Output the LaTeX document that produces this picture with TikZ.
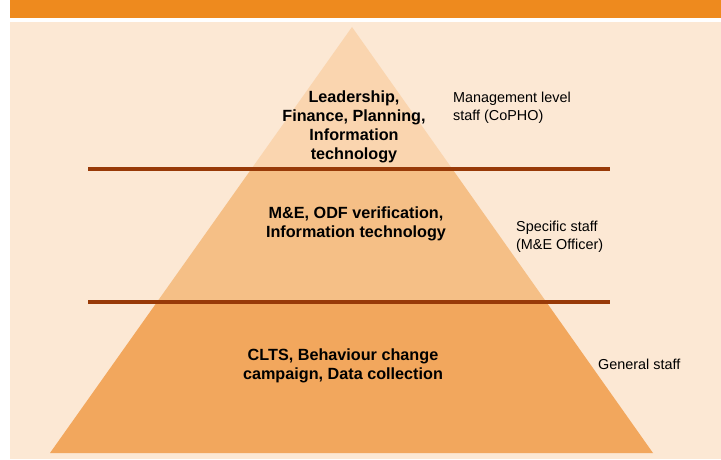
\documentclass[tikz,border=0pt]{standalone}
\usepackage{fontspec}
\setmainfont{Liberation Sans}
\definecolor{barorange}{HTML}{EE8A1E}
\definecolor{paper}{HTML}{FCE8D4}
\definecolor{tierone}{HTML}{FAD5AF}
\definecolor{tiertwo}{HTML}{F5BF86}
\definecolor{tierthree}{HTML}{F2A75D}
\definecolor{divider}{HTML}{983A08}
\begin{document}
\begin{tikzpicture}[
x=1pt, y=-1pt,
task/.style={inner sep=0pt, align=center, font=\bfseries\fontsize{16.2}{19}\selectfont},
staff/.style={inner sep=0pt, anchor=west, align=left, font=\fontsize{14.4}{18}\selectfont},
sep/.style={draw=divider, line width=4pt}
]

\def\W{721}
\def\H{460}
\def\lineA{168.7}
\def\lineB{302}

\useasboundingbox (0,0) rectangle (\W,\H);
\fill[white] (0,0) rectangle (\W,\H);

%%% header bar and paper
\fill[barorange] (10,0) rectangle (\W,17.7);
\fill[paper] (10,22) rectangle (\W,459);

%%% pyramid
\path (352,27) coordinate(top) (50,453) coordinate(bl) (653,453) coordinate(br);
\begin{scope}
	\clip (top)--(bl)--(br)--cycle;
	\fill[tierone] (0,0) rectangle (\W,\lineA);
	\fill[tiertwo] (0,\lineA) rectangle (\W,\lineB);
	\fill[tierthree] (0,\lineB) rectangle (\W,\H);
\end{scope}

%%% dividers
\foreach \y/\n in {\lineA/a, \lineB/b}{
	\path (88,\y) coordinate(\n west) (610,\y) coordinate(\n east);
	\draw[sep] (\n west)--(\n east);
}

%%% tiers
\node[task] (lead) at (354,127) {Leadership,\\Finance, Planning,\\Information\\technology};
\node[task] (mne) at (356,224) {M\&E, ODF verification,\\Information technology};
\node[task] (clts) at (343,366) {CLTS, Behaviour change\\campaign, Data collection};

%%% staff
\node[staff] (mgmt) at (453,108) {Management level\\staff (CoPHO)};
\node[staff] (spec) at (516,237) {Specific staff\\(M\&E Officer)};
\node[staff] (gen) at (598,364) {General staff};

\end{tikzpicture}
\end{document}
